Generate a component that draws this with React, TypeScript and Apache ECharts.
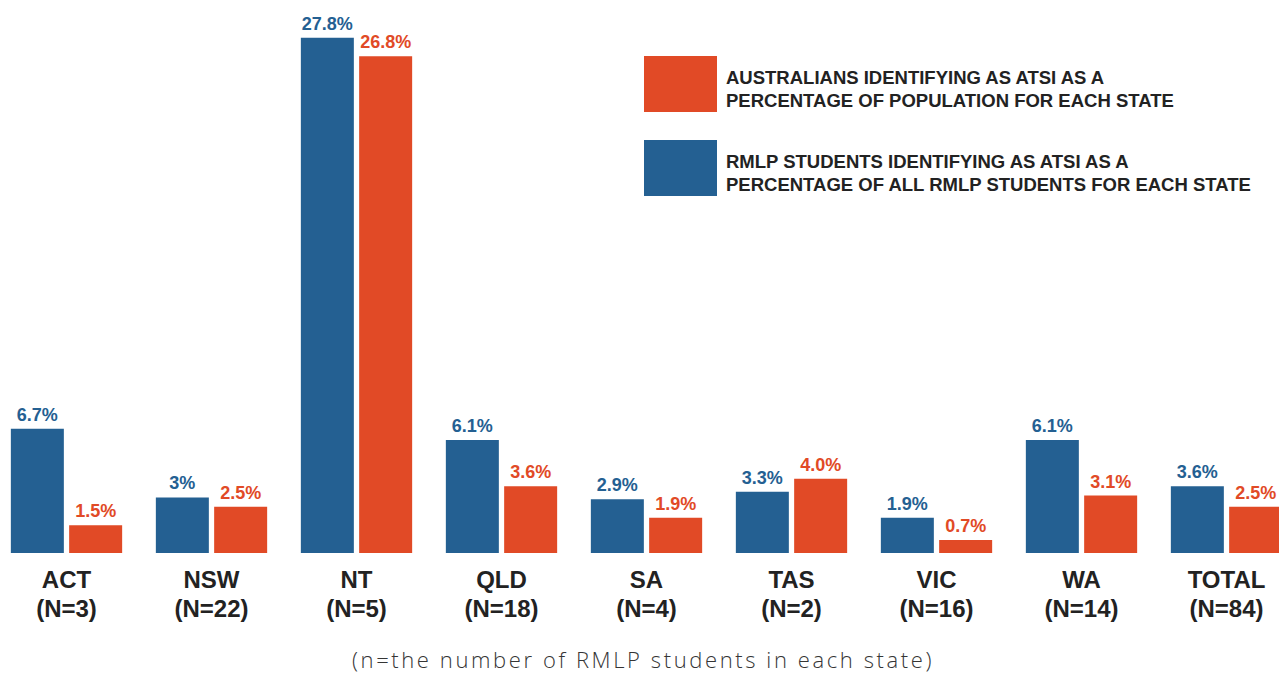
import React, { useEffect, useRef } from "react";
import * as echarts from "echarts";

const categories = ["ACT\n(N=3)", "NSW\n(N=22)", "NT\n(N=5)", "QLD\n(N=18)", "SA\n(N=4)", "TAS\n(N=2)", "VIC\n(N=16)", "WA\n(N=14)", "TOTAL\n(N=84)"];
const rmlpValues = [6.7, 3, 27.8, 6.1, 2.9, 3.3, 1.9, 6.1, 3.6];
const rmlpLabels = ["6.7%", "3%", "27.8%", "6.1%", "2.9%", "3.3%", "1.9%", "6.1%", "3.6%"];
const ausValues = [1.5, 2.5, 26.8, 3.6, 1.9, 4.0, 0.7, 3.1, 2.5];
const ausLabels = ["1.5%", "2.5%", "26.8%", "3.6%", "1.9%", "4.0%", "0.7%", "3.1%", "2.5%"];
const ausName = "AUSTRALIANS IDENTIFYING AS ATSI AS A\nPERCENTAGE OF POPULATION FOR EACH STATE";
const rmlpName = "RMLP STUDENTS IDENTIFYING AS ATSI AS A\nPERCENTAGE OF ALL RMLP STUDENTS FOR EACH STATE";
const footnote = "(n=the number of RMLP students in each state)";

const BLUE = "#246092";
const RED = "#E14A26";
const FONT = "'Liberation Sans', Arial, Helvetica, sans-serif";
const FOOT_FONT = "'Open Sans', 'Liberation Sans', sans-serif";

export default function App() {
  const ref = useRef<HTMLDivElement>(null);
  useEffect(() => {
    if (!ref.current) return;
    const chart = echarts.init(ref.current, undefined, { renderer: "svg" });
    const legendItems = [
      { name: ausName, color: RED },
      { name: rmlpName, color: BLUE },
    ];
    const legendGraphics: any[] = [];
    legendItems.forEach((it, i) => {
      const y0 = 56 + i * 84;
      legendGraphics.push({
        type: "rect",
        shape: { x: 644, y: y0, width: 73, height: 56 },
        style: { fill: it.color },
        silent: true,
      });
      legendGraphics.push({
        type: "text",
        x: 726,
        y: y0 + 33,
        style: {
          text: it.name,
          fontFamily: FONT,
          fontSize: 18.5,
          fontWeight: "bold",
          fill: "#222222",
          lineHeight: 23,
          verticalAlign: "middle",
          align: "left",
        },
        silent: true,
      });
    });
    chart.setOption({
      animation: false,
      backgroundColor: "#ffffff",
      graphic: [
        ...legendGraphics,
        {
          type: "text",
          x: 643,
          y: 659,
          style: {
            text: footnote,
            fontFamily: FOOT_FONT,
            fontSize: 22,
            fontWeight: 300,
            fill: "#353535",
            align: "center",
            verticalAlign: "middle",
          },
          silent: true,
        },
      ],
      grid: { left: -6, width: 1305, top: 0, bottom: 120, outerBoundsMode: "none", containLabel: false },
      xAxis: {
        type: "category",
        data: categories,
        axisLine: { show: false },
        axisTick: { show: false },
        axisLabel: {
          interval: 0,
          margin: 12,
          fontFamily: FONT,
          fontSize: 24,
          fontWeight: "bold",
          color: "#222222",
          lineHeight: 29,
        },
      },
      yAxis: {
        type: "value",
        min: 0,
        max: 29.84,
        show: false,
        splitLine: { show: false },
      },
      series: [
        {
          name: rmlpName,
          type: "bar",
          barWidth: 53,
          barGap: "10%",
          itemStyle: { color: BLUE },
          data: rmlpValues,
          label: {
            show: true,
            position: "top",
            distance: 5,
            formatter: (p: any) => rmlpLabels[p.dataIndex],
            fontFamily: FONT,
            fontSize: 18,
            fontWeight: "bold",
            color: BLUE,
          },
        },
        {
          name: ausName,
          type: "bar",
          barWidth: 53,
          barGap: "10%",
          itemStyle: { color: RED },
          data: ausValues,
          label: {
            show: true,
            position: "top",
            distance: 5,
            formatter: (p: any) => ausLabels[p.dataIndex],
            fontFamily: FONT,
            fontSize: 18,
            fontWeight: "bold",
            color: RED,
          },
        },
      ],
    });
    return () => chart.dispose();
  }, []);
  return (
    <>
      <style>{`#atsi-chart text[style*="Open Sans"], #atsi-chart text[fill="#353535"] { letter-spacing: 2.6px; }`}</style>
      <div
        id="atsi-chart"
        ref={ref}
        style={{ position: "fixed", left: 0, top: 0, width: 1279, height: 673 }}
      />
    </>
  );
}
